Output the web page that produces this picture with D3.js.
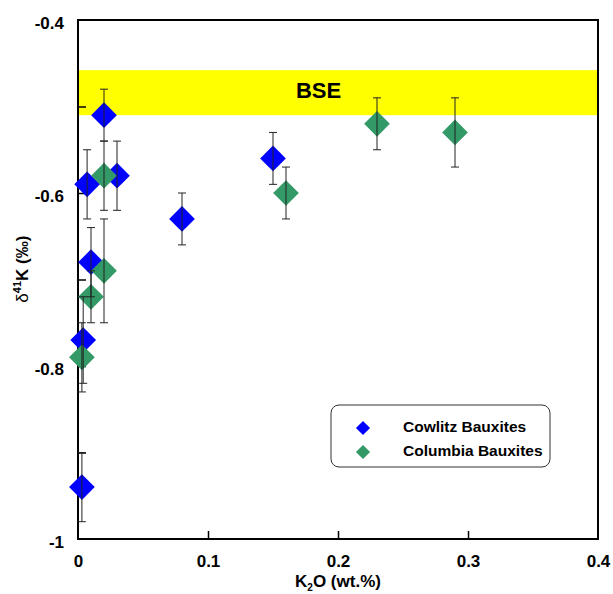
<!DOCTYPE html>
<html>
<head>
<meta charset="utf-8">
<script src="https://cdn.jsdelivr.net/npm/d3@7"></script>
<style>
  body { margin: 0; background: #fff; }
  svg text { font-family: "Liberation Sans", Arial, sans-serif; font-weight: bold; }
</style>
</head>
<body>
<div id="chart"></div>
<script>
// Cowlitz bauxites (blue)
const cowlitzK2O = [0.02, 0.007, 0.03, 0.01, 0.004, 0.003, 0.08, 0.15]
const cowlitzD41K = [-0.51, -0.59, -0.58, -0.68, -0.77, -0.94, -0.63, -0.56]
const cowlitzErr = [0.03, 0.04, 0.04, 0.04, 0.05, 0.04, 0.03, 0.03]

// Columbia bauxites (green)
const columbiaK2O = [0.02, 0.02, 0.01, 0.003, 0.16, 0.23, 0.29]
const columbiaD41K = [-0.58, -0.69, -0.72, -0.79, -0.60, -0.52, -0.53]
const columbiaErr = [0.04, 0.06, 0.03, 0.04, 0.03, 0.03, 0.04]

// bulk silicate earth band
const bseRange = [-0.51, -0.458]

const xTicks = [0, 0.1, 0.2, 0.3, 0.4]
const yTicks = [-1, -0.9, -0.8, -0.7, -0.6, -0.5, -0.4]
const yLabels = [-1, -0.8, -0.6, -0.4]

const width = 613, height = 594
const margin = {top: 20, right: 15, bottom: 55, left: 78}

const svg = d3.select("#chart").append("svg")
    .attr("width", width)
    .attr("height", height)

const x = d3.scaleLinear().domain([0, 0.4]).range([margin.left, width - margin.right])
const y = d3.scaleLinear().domain([-1, -0.4]).range([height - margin.bottom, margin.top])

// BSE band
svg.append("rect")
    .attr("x", x(0))
    .attr("width", x(0.4) - x(0))
    .attr("y", y(bseRange[1]))
    .attr("height", y(bseRange[0]) - y(bseRange[1]))
    .attr("fill", "#ffff00")

svg.append("text")
    .attr("x", x(0.185))
    .attr("y", y(-0.484))
    .attr("text-anchor", "middle")
    .attr("dominant-baseline", "middle")
    .attr("font-size", 22)
    .text("BSE")

// axes (inward ticks)
const xAxis = svg.append("g")
    .attr("transform", `translate(0,${y(-1)})`)
    .call(d3.axisBottom(x).tickValues(xTicks).tickSize(-8).tickPadding(16)
        .tickFormat(d => String(d)))
xAxis.select(".domain").remove()
xAxis.selectAll(".tick line").attr("stroke", "#000").attr("stroke-width", 1.5)
    .filter(d => d == 0 || d == 0.4).remove()
xAxis.selectAll("text").attr("font-size", 17).attr("fill", "#000")

const yAxis = svg.append("g")
    .attr("transform", `translate(${x(0)},0)`)
    .call(d3.axisLeft(y).tickValues(yTicks).tickSize(-8).tickPadding(14)
        .tickFormat(d => yLabels.includes(d) ? String(d) : ""))
yAxis.select(".domain").remove()
yAxis.selectAll(".tick line").attr("stroke", "#000").attr("stroke-width", 1.5)
    .filter(d => d == -1 || d == -0.4).remove()
yAxis.selectAll("text").attr("font-size", 17).attr("fill", "#000")
    .attr("dy", "0.5em")

// frame
svg.append("rect")
    .attr("x", x(0))
    .attr("y", y(-0.4))
    .attr("width", x(0.4) - x(0))
    .attr("height", y(-1) - y(-0.4))
    .attr("fill", "none")
    .attr("stroke", "#000")
    .attr("stroke-width", 2)

// axis titles
const xTitle = svg.append("text")
    .attr("x", x(0.2))
    .attr("y", 587)
    .attr("text-anchor", "middle")
    .attr("font-size", 17)
xTitle.append("tspan").text("K")
xTitle.append("tspan").attr("font-size", 10).attr("dy", 4).text("2")
xTitle.append("tspan").attr("dy", -4).text("O (wt.%)")

const yTitle = svg.append("text")
    .attr("transform", `translate(28,${y(-0.688)}) rotate(-90)`)
    .attr("text-anchor", "middle")
    .attr("font-size", 17)
yTitle.append("tspan").attr("font-weight", "normal").text("δ")
yTitle.append("tspan").attr("font-size", 11).attr("dy", -7).text("41")
yTitle.append("tspan").attr("dy", 7).text("K (‰)")

const cowlitz = cowlitzK2O.map((k, i) => ({x: k, y: cowlitzD41K[i], e: cowlitzErr[i]}))
const columbia = columbiaK2O.map((k, i) => ({x: k, y: columbiaD41K[i], e: columbiaErr[i]}))

const diamond = d3.symbol().type(d3.symbolSquare).size(330)

const drawSeries = (data, color) => {
    svg.append("g").selectAll("path")
        .data(data)
        .join("path")
        .attr("d", diamond)
        .attr("transform", d => `translate(${x(d.x)},${y(d.y)}) rotate(45)`)
        .attr("fill", color)
}
const drawErrors = (data) => {
    const g = svg.append("g").attr("stroke", "#222").attr("stroke-width", 1)
    g.selectAll("line.v").data(data).join("line").attr("class", "v")
        .attr("x1", d => x(d.x)).attr("x2", d => x(d.x))
        .attr("y1", d => y(d.y + d.e)).attr("y2", d => y(d.y - d.e))
    g.selectAll("line.t").data(data).join("line").attr("class", "t")
        .attr("x1", d => x(d.x) - 4).attr("x2", d => x(d.x) + 4)
        .attr("y1", d => y(d.y + d.e)).attr("y2", d => y(d.y + d.e))
    g.selectAll("line.b").data(data).join("line").attr("class", "b")
        .attr("x1", d => x(d.x) - 4).attr("x2", d => x(d.x) + 4)
        .attr("y1", d => y(d.y - d.e)).attr("y2", d => y(d.y - d.e))
}

drawSeries(cowlitz, "#0000ff")
drawSeries(columbia, "#339966")
drawErrors(cowlitz)
drawErrors(columbia)

// legend
const legend = svg.append("g").attr("transform", "translate(331,405)")
legend.append("rect")
    .attr("width", 219).attr("height", 62).attr("rx", 8)
    .attr("fill", "#fff").attr("stroke", "#333").attr("stroke-width", 1)
const items = [["Cowlitz Bauxites", "#0000ff"], ["Columbia Bauxites", "#339966"]]
items.forEach(([name, color], i) => {
    legend.append("path")
        .attr("d", d3.symbol().type(d3.symbolSquare).size(100))
        .attr("transform", `translate(32,${23 + i * 24}) rotate(45)`)
        .attr("fill", color)
    legend.append("text")
        .attr("x", 72).attr("y", 23 + i * 24)
        .attr("dominant-baseline", "middle")
        .attr("font-size", 15.5)
        .text(name)
})
</script>
</body>
</html>
